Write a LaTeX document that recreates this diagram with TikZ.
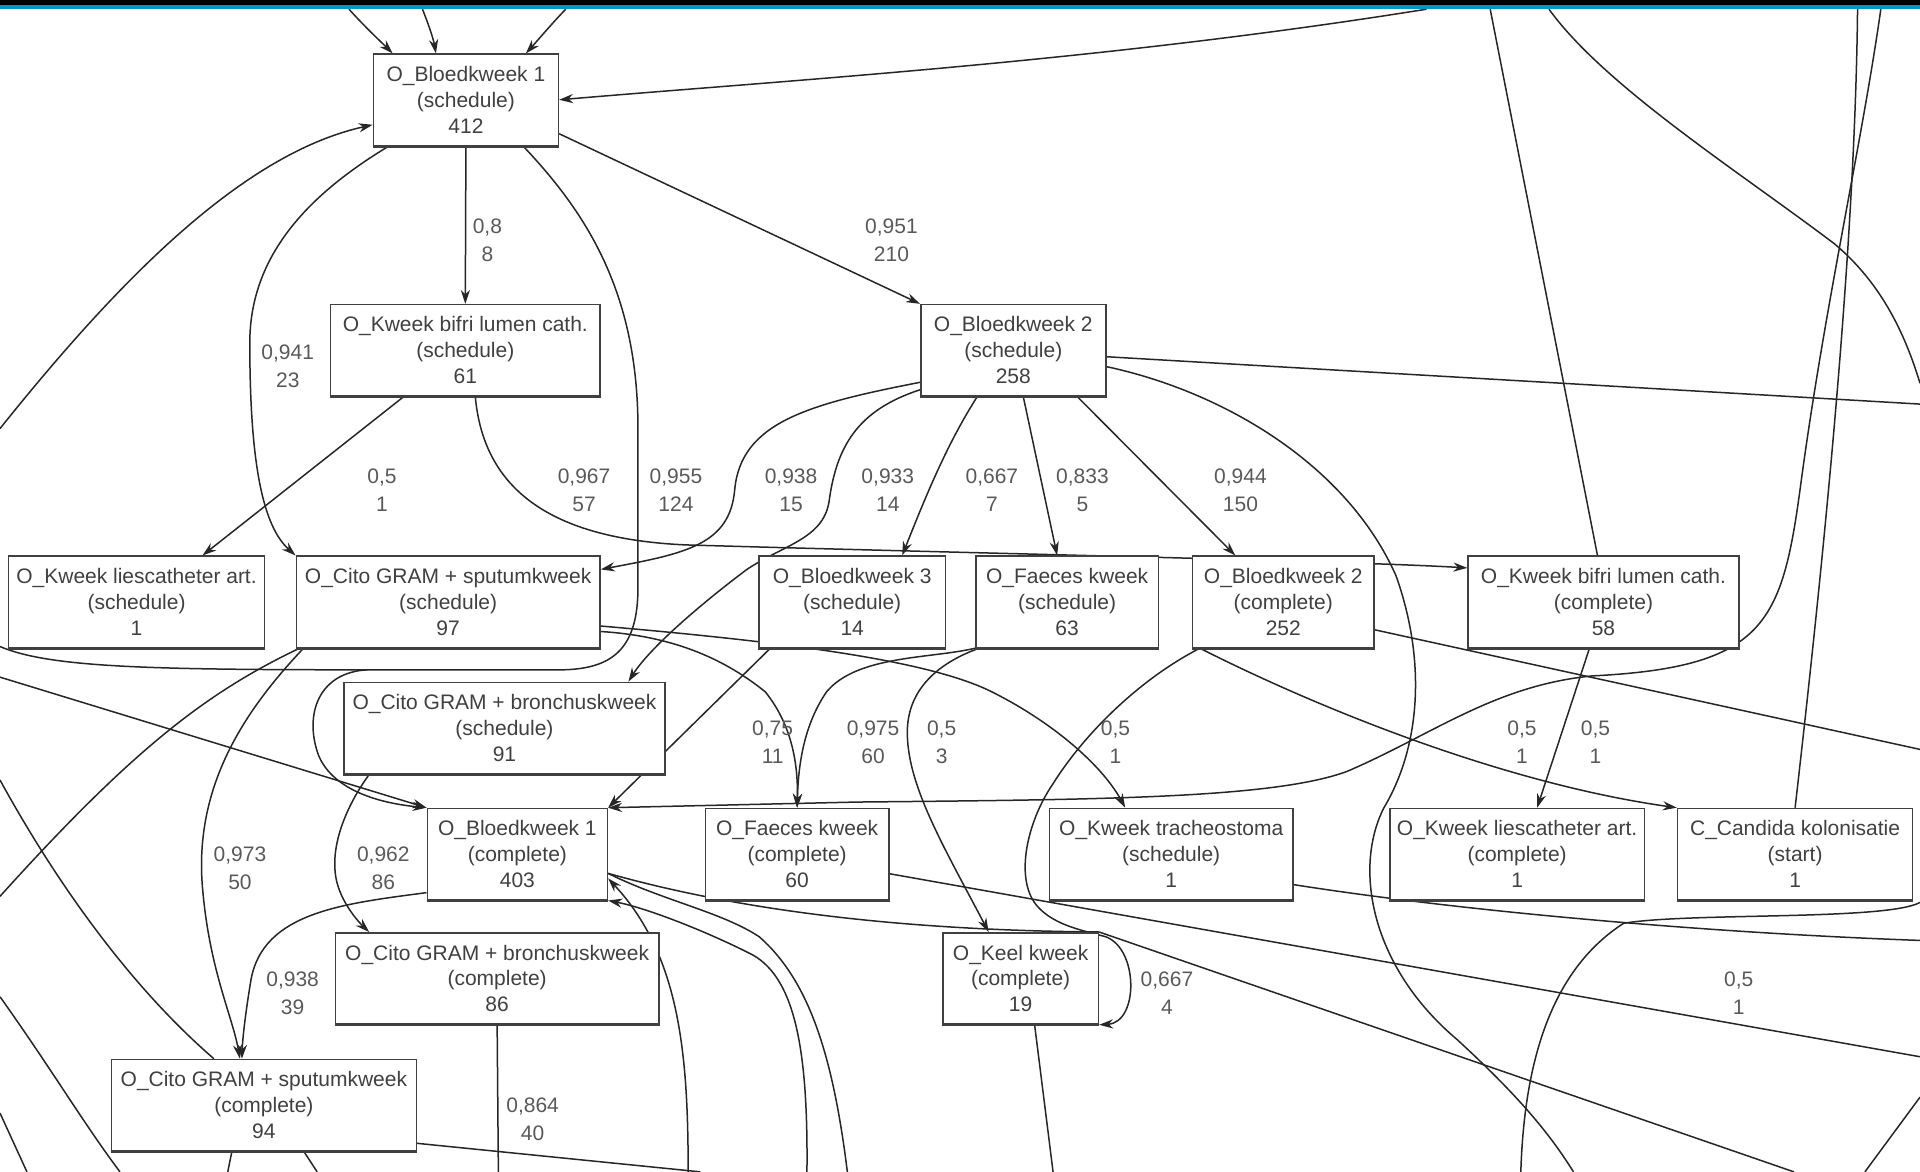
\documentclass[tikz,border=0pt]{standalone}
\usepackage{fontspec}
\setmainfont{Liberation Sans}
\usetikzlibrary{arrows.meta,backgrounds}
\definecolor{barblue}{RGB}{0,150,205}
\newcommand{\actfont}{\fontsize{10.5}{12.9}\selectfont}
\newcommand{\freqfont}{\fontsize{10.5}{14}\selectfont}

\begin{document}
\begin{tikzpicture}[x=0.6125pt, y=-0.6125pt, >={Stealth[length=7pt,width=4.6pt]},
		act/.style={draw=black!75, line width=0.8pt, fill=white, align=center, font=\actfont,
			text=black!75, inner sep=1pt, minimum height=45.6pt, minimum width=#1*0.6125pt},
		flow/.style={black!85, line width=0.75pt},
		freq/.style={font=\freqfont, text=black!65, align=center}]
	\useasboundingbox (0,0) rectangle (1568,957);
	
	% activiteiten
	\node[act=151] (bk1s) at (380.5,81.5) {O\_Bloedkweek 1\\(schedule)\\412};
	\node[act=220] (kbls) at (380,286) {O\_Kweek bifri lumen cath.\\(schedule)\\61};
	\node[act=151] (bk2s) at (827.5,286) {O\_Bloedkweek 2\\(schedule)\\258};
	
	\node[act=209] (klas) at (111.5,491.5) {O\_Kweek liescatheter art.\\(schedule)\\1};
	\node[act=248] (cgss) at (366,491.5) {O\_Cito GRAM + sputumkweek\\(schedule)\\97};
	\node[act=152] (bk3s) at (696,491.5) {O\_Bloedkweek 3\\(schedule)\\14};
	\node[act=149] (fks) at (871.5,491.5) {O\_Faeces kweek\\(schedule)\\63};
	\node[act=148] (bk2c) at (1048,491.5) {O\_Bloedkweek 2\\(complete)\\252};
	\node[act=221] (kblc) at (1309.5,491.5) {O\_Kweek bifri lumen cath.\\(complete)\\58};
	
	\node[act=262] (cgbs) at (412,594.5) {O\_Cito GRAM + bronchuskweek\\(schedule)\\91};
	
	\node[act=147] (bk1c) at (422.5,697.5) {O\_Bloedkweek 1\\(complete)\\403};
	\node[act=150] (fkc) at (651,697.5) {O\_Faeces kweek\\(complete)\\60};
	\node[act=199] (kts) at (956.5,697.5) {O\_Kweek tracheostoma\\(schedule)\\1};
	\node[act=208] (klac) at (1239,697.5) {O\_Kweek liescatheter art.\\(complete)\\1};
	\node[act=192] (cka) at (1466,697.5) {C\_Candida kolonisatie\\(start)\\1};
	
	\node[act=264] (cgbc) at (406,799) {O\_Cito GRAM + bronchuskweek\\(complete)\\86};
	\node[act=127] (kkc) at (833.5,799) {O\_Keel kweek\\(complete)\\19};
	\node[act=249] (cgsc) at (215.5,902.5) {O\_Cito GRAM + sputumkweek\\(complete)\\94};
	
	% dikkere onderrand
	\foreach \n in {bk1s,kbls,bk2s,klas,cgss,bk3s,fks,bk2c,kblc,cgbs,bk1c,fkc,kts,klac,cka,cgbc,kkc,cgsc}
	\draw[line width=1.6pt, black!75] (\n.south west) -- (\n.south east);
	
	% losse eindpunten aan de rand
	\coordinate (t1) at (285,7.5);
	\coordinate (t2) at (345,7.5);
	\coordinate (t3) at (462,7.5);
	\coordinate (t4) at (1165,7.5);
	\coordinate (t5) at (1217,7.5);
	\coordinate (t6) at (1265,7.5);
	\coordinate (t7) at (1517,7.5);
	\coordinate (t8) at (1536,7.5);
	\coordinate (l1) at (0,350);
	\coordinate (l2) at (0,528);
	\coordinate (l3) at (0,553);
	\coordinate (l4) at (0,732);
	\coordinate (l5) at (0,637);
	\coordinate (l6) at (0,814);
	\coordinate (l7) at (0,909);
	\coordinate (r1) at (1568,313);
	\coordinate (r2) at (1568,330);
	\coordinate (r3) at (1568,612);
	\coordinate (r4) at (1568,768);
	\coordinate (r5) at (1568,863);
	\coordinate (r6) at (1568,896);
	\coordinate (r7) at (1568,737);
	\coordinate (b1) at (186,957);
	\coordinate (b2) at (259,957);
	\coordinate (b3) at (407,957);
	\coordinate (b4) at (562,957);
	\coordinate (b5) at (659,957);
	\coordinate (b6) at (692,957);
	\coordinate (b7) at (860,957);
	\coordinate (b8) at (1285,957);
	\coordinate (b9) at (1242,957);
	\coordinate (b10) at (1523,957);
	\coordinate (b11) at (572,957);
	\coordinate (b12) at (1465,957);
	\coordinate (b13) at (98,957);
	\coordinate (b14) at (22,957);
	\coordinate (jl) at (300,547);
	
	\begin{pgfonlayer}{background}
		% naar O_Bloedkweek 1 (schedule)
		\draw[flow,->] (t1) .. controls (298,22) and (312,35) .. ([xshift=10pt]bk1s.north west);
		\draw[flow,->] (t2) .. controls (350,20) and (354,32) .. ([xshift=-15pt]bk1s.north);
		\draw[flow,->] (t3) .. controls (450,20) and (440,32) .. ([xshift=30pt]bk1s.north);
		\draw[flow,->] (t4) .. controls (900,50) and (650,65) .. (bk1s.east);
		\draw[flow,->] (l1) .. controls (100,225) and (200,125) .. (bk1s.-165);
		
		\draw[flow,->] (bk1s.south) -- (kbls.north);
		\draw[flow,->] (bk1s.-20) -- (bk2s.north west);
		\draw[flow,->] (bk1s.-149) .. controls (250,160) and (204,210) .. (204,280) .. controls (204,380) and (215,430) .. (cgss.north west);
		\draw[flow,->] (bk1s.-39) .. controls (480,175) and (521,240) .. (521,350) -- (521,480) .. controls (521,530) and (500,546) .. (460,547) -- (jl) .. controls (262,549) and (250,580) .. (258,610) .. controls (265,640) and (300,655) .. (bk1c.north west);
		\draw[flow] (l2) .. controls (40,545) and (120,547) .. (jl);
		\draw[flow,->] (l3) -- (bk1c.north west);
		
		\draw[flow,->] ([xshift=37pt]kbls.south west) -- ([xshift=33pt]klas.north);
		\draw[flow,->] ([xshift=5pt]kbls.south) .. controls (395,400) and (450,440) .. (560,445) .. controls (800,452) and (1100,458) .. (kblc.166);
		
		% uit O_Bloedkweek 2 (schedule)
		\draw[flow,->] (bk2s.-161) .. controls (660,330) and (605,345) .. (600,400) .. controls (596,445) and (560,452) .. (cgss.12);
		\draw[flow,->] (bk2s.-157) .. controls (700,335) and (683,365) .. (677,410) .. controls (672,440) and (640,445) .. (610,465) .. controls (570,495) and (530,530) .. ([xshift=62pt]cgbs.north);
		\draw[flow,->] ([xshift=-18pt]bk2s.south) .. controls (775,360) and (758,400) .. ([xshift=25pt]bk3s.north);
		\draw[flow,->] ([xshift=5pt]bk2s.south) -- ([xshift=-5pt]fks.north);
		\draw[flow,->] ([xshift=32pt]bk2s.south) -- ([xshift=-24pt]bk2c.north);
		\draw[flow] (bk2s.-4) -- (r2);
		\draw[flow] (bk2s.-10) .. controls (1000,320) and (1100,380) .. (1140,470) .. controls (1165,540) and (1160,610) .. (1130,660) .. controls (1105,710) and (1120,790) .. (1190,849) .. controls (1240,895) and (1265,925) .. (b8);
		
		\draw[flow,->] ([xshift=4pt]cgss.south west) .. controls (200,580) and (160,640) .. (165,720) .. controls (170,790) and (190,830) .. ([xshift=-12pt]cgsc.north);
		\draw[flow,->] (bk1c.-157) .. controls (280,738) and (215,745) .. (205,800) .. controls (200,830) and (198,850) .. ([xshift=-11pt]cgsc.north);
		\draw[flow,->] ([xshift=13pt]cgbs.south west) .. controls (285,655) and (268,690) .. (275,720) .. controls (280,740) and (295,755) .. ([xshift=-64pt]cgbc.north);
		\draw[flow,->] (cgss.-9) .. controls (650,525) and (760,540) .. (810,565) .. controls (860,590) and (900,625) .. ([xshift=-23pt]kts.north);
		\draw[flow,->] (cgss.-11) .. controls (560,520) and (600,545) .. (625,565) .. controls (645,590) and (652,620) .. (fkc.north);
		\draw[flow,->] ([xshift=6pt]bk3s.south west) -- (bk1c.north east);
		\draw[flow,->] (t8) .. controls (1520,120) and (1490,250) .. (1470,400) .. controls (1455,510) and (1440,545) .. (1300,552) .. controls (1220,560) and (1170,600) .. (1100,630) .. controls (1040,652) and (900,653) .. (700,655) -- (bk1c.north east);
		
		\draw[flow,->] ([xshift=4pt]bk2c.south west) .. controls (930,555) and (885,600) .. (860,640) .. controls (838,672) and (828,720) .. (848,741) .. controls (862,756) and (885,760) .. (903,765) .. controls (930,775) and (930,835) .. (kkc.south east);
		\draw[flow] (bk1c.-12) .. controls (620,748) and (760,760) .. (kkc.north east);
		\draw[flow] (kkc.north east) -- (b12);
		\draw[flow,->] (fks.south west) .. controls (760,538) and (700,535) .. (675,565) .. controls (658,590) and (652,620) .. (fkc.north);
		\draw[flow,->] ([xshift=2pt]fks.south west) .. controls (770,540) and (742,560) .. (741,596) .. controls (740,640) and (770,690) .. ([xshift=-16pt]kkc.north);
		\draw[flow,->] ([xshift=4pt]bk2c.south west) .. controls (1080,580) and (1230,640) .. (cka.north west);
		\draw[flow] (bk2c.-17) -- (r3);
		\draw[flow,->] ([xshift=-7pt]kblc.south) -- ([xshift=10pt]klac.north);
		\draw[flow] ([xshift=-3pt]kblc.north) -- (t5);
		\draw[flow] (cka.north) .. controls (1490,450) and (1515,200) .. (t7);
		\draw[flow] (t6) .. controls (1310,70) and (1420,140) .. (1498,199) .. controls (1535,230) and (1555,270) .. (r1);
		
		\draw[flow] (fkc.-12) -- (r5);
		\draw[flow] (kts.-14) .. controls (1200,745) and (1400,762) .. (r4);
		\draw[flow] (cgbc.south) -- (b3);
		\draw[flow] ([xshift=7pt]kkc.south) -- (b7);
		\draw[flow] ([xshift=-16pt]cgsc.south) -- (b1);
		\draw[flow] ([xshift=20pt]cgsc.south) -- (b2);
		\draw[flow] (cgsc.-14) -- (b11);
		\draw[flow,->] (b4) .. controls (562,860) and (555,780) .. (bk1c.-15);
		\draw[flow,->] (b5) .. controls (660,860) and (650,800) .. (615,780) .. controls (580,762) and (530,742) .. (bk1c.south east);
		\draw[flow] (b6) .. controls (680,860) and (660,800) .. (620,765) .. controls (590,745) and (540,735) .. (bk1c.-12);
		
		% lijnen langs de linker- en rechterrand
		\draw[flow] ([xshift=2pt]cgss.south west) .. controls (170,565) and (110,610) .. (l4);
		\draw[flow] (l5) .. controls (40,710) and (100,800) .. ([xshift=-25pt]cgsc.north);
		\draw[flow] (l6) .. controls (40,870) and (70,920) .. (b13);
		\draw[flow] (l7) -- (b14);
		\draw[flow] (r6) -- (b10);
		\draw[flow] (r7) .. controls (1540,752) and (1380,745) .. (1326,754) .. controls (1270,790) and (1245,860) .. (b9);
	\end{pgfonlayer}
	
	% frequenties
	\node[freq] (q1) at (398,196) {0,8\\8};
	\node[freq] (q2) at (728,196) {0,951\\210};
	\node[freq] (q3) at (235,299) {0,941\\23};
	\node[freq] (q4) at (312,400) {0,5\\1};
	\node[freq] (q5) at (477,400) {0,967\\57};
	\node[freq] (q6) at (552,400) {0,955\\124};
	\node[freq] (q7) at (646,400) {0,938\\15};
	\node[freq] (q8) at (725,400) {0,933\\14};
	\node[freq] (q9) at (810,400) {0,667\\7};
	\node[freq] (q10) at (884,400) {0,833\\5};
	\node[freq] (q11) at (1013,400) {0,944\\150};
	\node[freq] (q12) at (631,606) {0,75\\11};
	\node[freq] (q13) at (713,606) {0,975\\60};
	\node[freq] (q14) at (769,606) {0,5\\3};
	\node[freq] (q15) at (911,606) {0,5\\1};
	\node[freq] (q16) at (1243,606) {0,5\\1};
	\node[freq] (q17) at (1303,606) {0,5\\1};
	\node[freq] (q18) at (196,709) {0,973\\50};
	\node[freq] (q19) at (313,709) {0,962\\86};
	\node[freq] (q20) at (239,811) {0,938\\39};
	\node[freq] (q21) at (953,811) {0,667\\4};
	\node[freq] (q22) at (1420,811) {0,5\\1};
	\node[freq] (q23) at (435,914) {0,864\\40};
	
	% balk bovenaan
	\fill[black] (0,0) rectangle (1568,4);
	\fill[barblue] (0,4) rectangle (1568,7.5);
\end{tikzpicture}
\end{document}
